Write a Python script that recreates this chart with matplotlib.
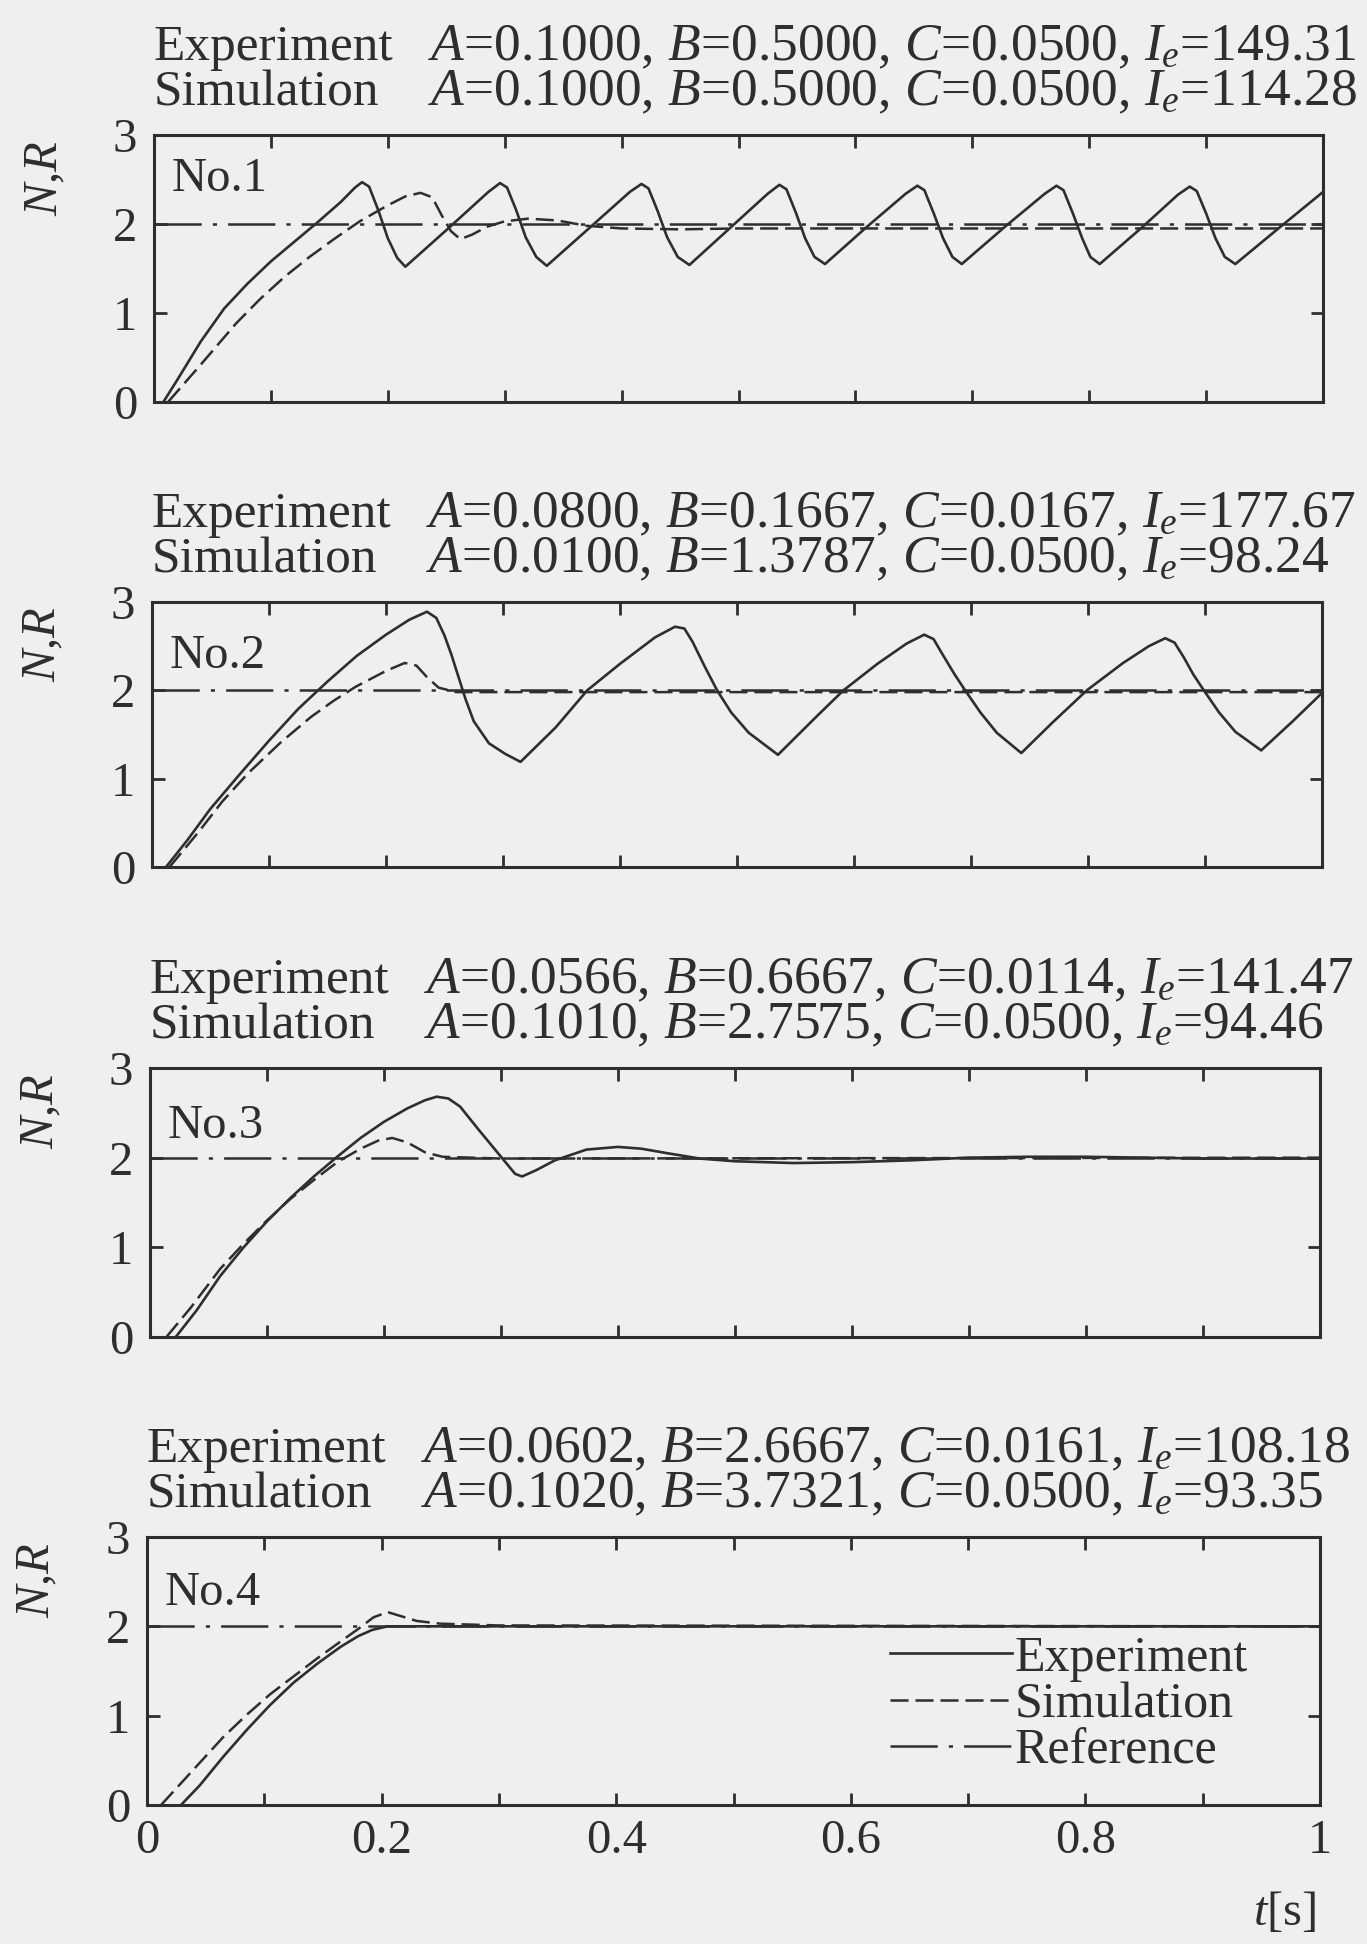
import matplotlib
matplotlib.use('Agg')
import matplotlib.pyplot as plt

plt.rcParams['font.family'] = ['Liberation Serif', 'DejaVu Serif']
plt.rcParams['mathtext.fontset'] = 'custom'
plt.rcParams['mathtext.rm'] = 'Liberation Serif'
plt.rcParams['mathtext.it'] = 'Liberation Serif:italic'
plt.rcParams['lines.scale_dashes'] = False

## DATA
exp1_t = [0.008, 0.020, 0.040, 0.060, 0.080, 0.100, 0.120, 0.140, 0.160, 0.172, 0.178, 0.184, 0.192, 0.200, 0.208, 0.215,
          0.250, 0.286, 0.296, 0.302, 0.310, 0.318, 0.327, 0.336,
          0.372, 0.407, 0.417, 0.423, 0.431, 0.439, 0.448, 0.458,
          0.494, 0.525, 0.535, 0.541, 0.549, 0.557, 0.565, 0.574,
          0.610, 0.643, 0.653, 0.659, 0.667, 0.675, 0.683, 0.691,
          0.728, 0.762, 0.772, 0.778, 0.786, 0.794, 0.801, 0.809,
          0.845, 0.876, 0.886, 0.892, 0.900, 0.908, 0.916, 0.925,
          0.960, 1.000]
exp1_y = [0.00, 0.25, 0.68, 1.05, 1.33, 1.58, 1.80, 2.02, 2.25, 2.41, 2.47, 2.42, 2.15, 1.84, 1.62, 1.52,
          1.93, 2.36, 2.46, 2.41, 2.15, 1.85, 1.63, 1.53,
          1.95, 2.36, 2.45, 2.40, 2.14, 1.85, 1.63, 1.54,
          1.97, 2.34, 2.44, 2.39, 2.13, 1.84, 1.63, 1.55,
          1.97, 2.34, 2.43, 2.38, 2.12, 1.84, 1.63, 1.55,
          1.97, 2.34, 2.43, 2.38, 2.12, 1.84, 1.63, 1.55,
          1.96, 2.33, 2.42, 2.37, 2.12, 1.84, 1.63, 1.55,
          1.93, 2.36]
sim1_t = [0.012, 0.040, 0.070, 0.091, 0.112, 0.133, 0.155, 0.176, 0.200, 0.215, 0.228, 0.238, 0.246, 0.254, 0.262,
          0.272, 0.285, 0.300, 0.320, 0.345, 0.370, 0.400, 0.450, 0.500, 0.600, 0.700, 0.800, 0.900, 1.000]
sim1_y = [0.00, 0.42, 0.88, 1.16, 1.41, 1.63, 1.84, 2.03, 2.21, 2.31, 2.35, 2.30, 2.10, 1.92, 1.83,
          1.88, 1.97, 2.03, 2.06, 2.04, 1.98, 1.95, 1.94, 1.95, 1.95, 1.95, 1.95, 1.95, 1.95]

exp2_t = [0.012, 0.030, 0.050, 0.075, 0.100, 0.125, 0.150, 0.175, 0.200, 0.220, 0.235, 0.243, 0.250, 0.256,
          0.262, 0.268, 0.275, 0.288, 0.302, 0.315,
          0.345, 0.372, 0.400, 0.430, 0.447, 0.455, 0.462, 0.472, 0.483, 0.495, 0.510, 0.535,
          0.570, 0.591, 0.620, 0.645, 0.660, 0.668, 0.676, 0.686, 0.695, 0.708, 0.722, 0.743,
          0.770, 0.799, 0.830, 0.852, 0.866, 0.874, 0.882, 0.890, 0.899, 0.912, 0.926, 0.948,
          0.975, 1.000]
exp2_y = [0.00, 0.30, 0.66, 1.05, 1.43, 1.79, 2.10, 2.39, 2.63, 2.80, 2.89, 2.82, 2.62, 2.40,
          2.15, 1.90, 1.65, 1.40, 1.28, 1.19,
          1.58, 2.00, 2.30, 2.60, 2.72, 2.70, 2.55, 2.28, 2.00, 1.75, 1.52, 1.27,
          1.73, 2.00, 2.30, 2.53, 2.63, 2.58, 2.40, 2.18, 2.00, 1.75, 1.52, 1.29,
          1.64, 2.00, 2.31, 2.50, 2.59, 2.54, 2.37, 2.18, 2.00, 1.75, 1.53, 1.32,
          1.65, 1.97]
sim2_t = [0.015, 0.040, 0.060, 0.082, 0.110, 0.136, 0.155, 0.174, 0.200, 0.216, 0.226, 0.235, 0.245, 0.260, 1.000]
sim2_y = [0.00, 0.40, 0.74, 1.06, 1.41, 1.70, 1.88, 2.04, 2.22, 2.31, 2.28, 2.15, 2.03, 1.98, 1.98]

exp3_t = [0.022, 0.040, 0.060, 0.080, 0.100, 0.120, 0.140, 0.160, 0.180, 0.200, 0.220, 0.235, 0.245, 0.255,
          0.265, 0.281, 0.300, 0.312, 0.318, 0.330, 0.346, 0.373, 0.400, 0.420, 0.442, 0.470, 0.500,
          0.550, 0.600, 0.650, 0.700, 0.750, 0.800, 0.850, 0.900, 0.950, 1.000]
exp3_y = [0.00, 0.30, 0.68, 1.00, 1.29, 1.55, 1.79, 2.01, 2.22, 2.40, 2.55, 2.64, 2.68, 2.66,
          2.57, 2.31, 2.01, 1.82, 1.79, 1.86, 1.97, 2.09, 2.12, 2.10, 2.05, 1.99, 1.96,
          1.94, 1.95, 1.97, 2.00, 2.01, 2.01, 2.00, 1.99, 1.99, 1.99]
sim3_t = [0.014, 0.035, 0.060, 0.080, 0.100, 0.120, 0.140, 0.160, 0.180, 0.195, 0.207, 0.220, 0.235,
          0.250, 0.300, 1.000]
sim3_y = [0.00, 0.33, 0.76, 1.04, 1.30, 1.54, 1.75, 1.95, 2.10, 2.19, 2.22, 2.17, 2.06,
          2.01, 1.99, 2.00]

exp4_t = [0.029, 0.045, 0.065, 0.085, 0.105, 0.125, 0.145, 0.165, 0.180, 0.192, 0.205, 0.250, 1.000]
exp4_y = [0.00, 0.22, 0.54, 0.84, 1.12, 1.37, 1.58, 1.77, 1.89, 1.96, 2.00, 2.00, 2.00]
sim4_t = [0.012, 0.035, 0.065, 0.085, 0.105, 0.125, 0.145, 0.165, 0.180, 0.193, 0.205, 0.215, 0.230,
          0.250, 0.300, 1.000]
sim4_y = [0.00, 0.33, 0.76, 1.01, 1.24, 1.44, 1.64, 1.83, 1.97, 2.10, 2.16, 2.12, 2.06,
          2.03, 2.01, 2.00]

ref_t = [0.0, 1.0]
ref_y = [2.0, 2.0]

case_names = ['No.1', 'No.2', 'No.3', 'No.4']
exp_params = ['$A$=0.1000, $B$=0.5000, $C$=0.0500, $I_e$=149.31',
              '$A$=0.0800, $B$=0.1667, $C$=0.0167, $I_e$=177.67',
              '$A$=0.0566, $B$=0.6667, $C$=0.0114, $I_e$=141.47',
              '$A$=0.0602, $B$=2.6667, $C$=0.0161, $I_e$=108.18']
sim_params = ['$A$=0.1000, $B$=0.5000, $C$=0.0500, $I_e$=114.28',
              '$A$=0.0100, $B$=1.3787, $C$=0.0500, $I_e$=98.24',
              '$A$=0.1010, $B$=2.7575, $C$=0.0500, $I_e$=94.46',
              '$A$=0.1020, $B$=3.7321, $C$=0.0500, $I_e$=93.35']

x_ticks = [0.0, 0.1, 0.2, 0.3, 0.4, 0.5, 0.6, 0.7, 0.8, 0.9, 1.0]
x_labels = ['0', '', '0.2', '', '0.4', '', '0.6', '', '0.8', '', '1']
y_ticks = [0, 1, 2, 3]
y_labels = ['0', '1', '2', '3']

exp_data = [(exp1_t, exp1_y), (exp2_t, exp2_y), (exp3_t, exp3_y), (exp4_t, exp4_y)]
sim_data = [(sim1_t, sim1_y), (sim2_t, sim2_y), (sim3_t, sim3_y), (sim4_t, sim4_y)]

## LAYOUT (pixels of the 1367x1944 image)
W, H = 1367, 1944
lefts = [154, 152, 150, 147]
rights = [1323, 1322, 1320, 1320]
tops = [135, 602, 1068, 1537]
bottoms = [402, 867, 1337, 1805]
no_y = [0.79, 0.75, 0.74, 0.745]

bg = '#efeff0'
ink = '#2e2e2e'
fs = 35       # tick labels, case names
fs_head = 37  # "Experiment" / "Simulation"
fs_par = 38.5 # parameter strings
fs_leg = 36

fig = plt.figure(figsize=(W / 100, H / 100), dpi=100, facecolor=bg)

for i in range(4):
    ax = fig.add_axes([lefts[i] / W, 1 - bottoms[i] / H,
                       (rights[i] - lefts[i]) / W, (bottoms[i] - tops[i]) / H])
    ax.set_facecolor(bg)
    ax.plot(ref_t, ref_y, color=ink, lw=1.8, ls=(0, (34, 8, 3, 8)), label='Reference')
    ax.plot(sim_data[i][0], sim_data[i][1], color=ink, lw=1.8, ls=(0, (13, 5)), label='Simulation')
    ax.plot(exp_data[i][0], exp_data[i][1], color=ink, lw=1.9, label='Experiment')
    ax.set_xlim(0, 1)
    ax.set_ylim(0, 3)
    ax.set_xticks(x_ticks)
    ax.set_yticks(y_ticks)
    ax.set_yticklabels(y_labels)
    if i == 3:
        ax.set_xticklabels(x_labels)
    else:
        ax.set_xticklabels([''] * len(x_ticks))
    ax.tick_params(direction='in', length=9, width=2.0, top=True, right=True,
                   labelsize=fs, colors=ink)
    ax.tick_params(axis='y', pad=12)
    ax.tick_params(axis='x', pad=10)
    for sp in ax.spines.values():
        sp.set_linewidth(2.2)
        sp.set_color(ink)

    ax.text(0.015, no_y[i], case_names[i], transform=ax.transAxes, fontsize=fs,
            color=ink, va='baseline', ha='left')
    ax.text(-0.093, 0.84, '$N$,$R$', transform=ax.transAxes, fontsize=fs, color=ink,
            rotation=90, ha='center', va='center')

    y_sim = 1 - (tops[i] - 30) / H
    y_exp = 1 - (tops[i] - 75) / H
    fig.text(lefts[i] / W, y_exp, 'Experiment', fontsize=fs_head, color=ink, va='baseline')
    fig.text(lefts[i] / W, y_sim, 'Simulation', fontsize=fs_head, color=ink, va='baseline')
    fig.text((lefts[i] + 274) / W, y_exp, exp_params[i], fontsize=fs_par, color=ink, va='baseline')
    fig.text((lefts[i] + 274) / W, y_sim, sim_params[i], fontsize=fs_par, color=ink, va='baseline')

    if i == 3:
        h, l = ax.get_legend_handles_labels()
        order = [2, 1, 0]
        ax.legend([h[k] for k in order], [l[k] for k in order], loc='center left',
                  bbox_to_anchor=(0.633, 0.373), frameon=False, fontsize=fs_leg,
                  handlelength=2.45, handletextpad=0.05, labelspacing=0.0,
                  borderpad=0, borderaxespad=0, labelcolor=ink)

fig.text(1316 / W, 1 - 1912 / H, '$t$[s]', fontsize=fs, color=ink, ha='right', va='center')

fig.savefig('out.png', dpi=100, facecolor=bg)
